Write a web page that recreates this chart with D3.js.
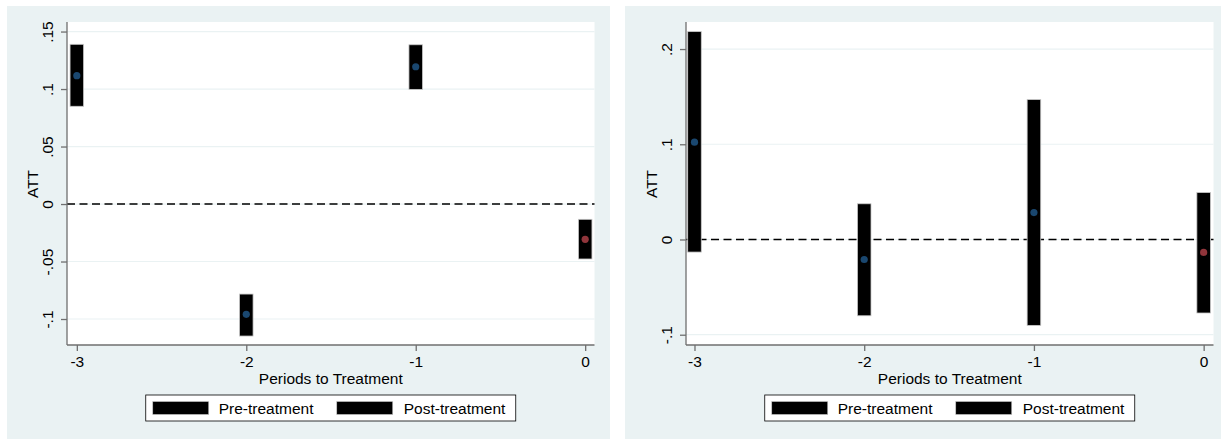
<!DOCTYPE html>
<html>
<head>
<meta charset="utf-8">
<script src="https://cdn.jsdelivr.net/npm/d3@7"></script>
<style>
  html, body { margin: 0; padding: 0; background: #ffffff; }
  svg { display: block; font-family: "Liberation Sans", Arial, sans-serif; }
</style>
</head>
<body>
<svg id="chart" width="1221" height="441"></svg>
<script>
// Event-study estimates: periods relative to treatment, point estimates and CI bounds
const periods = [-3, -2, -1, 0];
const periodLabels = ["-3", "-2", "-1", "0"];

const leftEst = [0.1116, -0.0959, 0.1194, -0.0307];
const leftLo  = [0.0850, -0.1148, 0.0997, -0.0478];
const leftHi  = [0.1389, -0.0783, 0.1385, -0.0133];
const leftTicks = [-0.1, -0.05, 0, 0.05, 0.1, 0.15];
const leftTickLabels = ["-.1", "-.05", "0", ".05", ".1", ".15"];

const rightEst = [0.1022, -0.0210, 0.0283, -0.0136];
const rightLo  = [-0.0132, -0.0801, -0.0902, -0.0772];
const rightHi  = [0.2183, 0.0375, 0.1469, 0.0493];
const rightTicks = [-0.1, 0, 0.1, 0.2];
const rightTickLabels = ["-.1", "0", ".1", ".2"];

const legendLabels = ["Pre-treatment", "Post-treatment"];
const xTitle = "Periods to Treatment";
const yTitle = "ATT";

const BG = "#eaf2f3";
const AXIS = "#6f6f6f";
const PRE = "#1a476f";
const POST = "#90353b";
const BAR_HALF = 0.04;
const FS = 15.5;

const svg = d3.select("#chart");

function panel(opts) {
  const g = svg.append("g");
  // outer graph region
  g.append("rect").attr("x", opts.bx).attr("y", 6).attr("width", opts.bw).attr("height", 433).attr("fill", BG);
  // plot region
  g.append("rect").attr("x", opts.px0).attr("y", 22).attr("width", opts.px1 - opts.px0).attr("height", 345 - 22).attr("fill", "#ffffff");

  const x = d3.scaleLinear().domain(opts.xdom).range([opts.px0, opts.px1]);
  const y = d3.scaleLinear().domain(opts.ydom).range([345, 22]);

  // horizontal grid
  g.append("g").selectAll("line").data(opts.ticks).join("line")
    .attr("x1", opts.px0).attr("x2", opts.px1)
    .attr("y1", d => y(d)).attr("y2", d => y(d))
    .attr("stroke", BG).attr("stroke-width", 1.2);

  // zero reference line
  g.append("line").attr("x1", opts.px0).attr("x2", opts.px1)
    .attr("y1", y(0)).attr("y2", y(0))
    .attr("stroke", "#000").attr("stroke-width", 1.5).attr("stroke-dasharray", "8,4.5");

  // confidence bars
  const rows = periods.map((p, i) => ({ p, est: opts.est[i], lo: opts.lo[i], hi: opts.hi[i] }));
  g.append("g").selectAll("rect").data(rows).join("rect")
    .attr("x", d => x(d.p - BAR_HALF))
    .attr("width", d => x(d.p + BAR_HALF) - x(d.p - BAR_HALF))
    .attr("y", d => y(d.hi))
    .attr("height", d => y(d.lo) - y(d.hi))
    .attr("fill", "#000").attr("stroke", "#c8c8c8").attr("stroke-width", 0.8);

  // point estimates
  g.append("g").selectAll("circle").data(rows).join("circle")
    .attr("cx", d => x(d.p)).attr("cy", d => y(d.est)).attr("r", 3.6)
    .attr("fill", d => d.p < 0 ? PRE : POST);

  // y axis
  const yAxis = d3.axisLeft(y).tickValues(opts.ticks).tickSize(6).tickFormat((d, i) => opts.tickLabels[i]);
  const ya = g.append("g").attr("transform", `translate(${opts.px0},0)`).call(yAxis);
  ya.select(".domain").attr("stroke", AXIS).attr("stroke-width", 1.3).attr("d", `M0,22V345`);
  ya.selectAll(".tick line").attr("stroke", AXIS).attr("stroke-width", 1.3);
  ya.selectAll(".tick text")
    .attr("x", null).attr("dy", null)
    .attr("transform", "translate(-14,0) rotate(-90)")
    .attr("text-anchor", "middle").attr("y", 0)
    .attr("font-size", FS).attr("fill", "#000")
    .attr("font-family", "Liberation Sans, Arial, sans-serif");

  // x axis
  const xAxis = d3.axisBottom(x).tickValues(periods).tickSize(6).tickFormat((d, i) => periodLabels[i]);
  const xa = g.append("g").attr("transform", "translate(0,345)").call(xAxis);
  xa.select(".domain").attr("stroke", AXIS).attr("stroke-width", 1.3).attr("d", `M${opts.px0},0H${opts.px1}`);
  xa.selectAll(".tick line").attr("stroke", AXIS).attr("stroke-width", 1.3);
  xa.selectAll(".tick text").attr("y", 22).attr("dy", null)
    .attr("font-size", FS).attr("fill", "#000")
    .attr("font-family", "Liberation Sans, Arial, sans-serif");

  // axis titles
  const cx = (opts.px0 + opts.px1) / 2;
  g.append("text").attr("x", cx).attr("y", 384).attr("text-anchor", "middle")
    .attr("font-size", FS).text(xTitle);
  g.append("text").attr("transform", `translate(${opts.px0 - 29},184) rotate(-90)`)
    .attr("text-anchor", "middle").attr("font-size", FS).text(yTitle);

  // legend
  const lw = 370, lx = cx - lw / 2, ly = 395;
  const lg = g.append("g");
  lg.append("rect").attr("x", lx).attr("y", ly).attr("width", lw).attr("height", 26)
    .attr("fill", "#fff").attr("stroke", "#000").attr("stroke-width", 0.8);
  const items = [{ sx: lx + 7, tx: lx + 73 }, { sx: lx + 191, tx: lx + 258 }];
  items.forEach((it, i) => {
    lg.append("rect").attr("x", it.sx).attr("y", ly + 6.5).attr("width", 56).attr("height", 13)
      .attr("fill", "#000").attr("stroke", "#c8c8c8").attr("stroke-width", 0.6);
    lg.append("text").attr("x", it.tx).attr("y", ly + 18.5).attr("font-size", FS).text(legendLabels[i]);
  });
}

panel({ bx: 7, bw: 603, px0: 67, px1: 594.5, xdom: [-3.058, 0.055], ydom: [-0.1226, 0.1583],
  est: leftEst, lo: leftLo, hi: leftHi, ticks: leftTicks, tickLabels: leftTickLabels });
panel({ bx: 625, bw: 596, px0: 686, px1: 1213.5, xdom: [-3.050, 0.058], ydom: [-0.1108, 0.2284],
  est: rightEst, lo: rightLo, hi: rightHi, ticks: rightTicks, tickLabels: rightTickLabels });
</script>
</body>
</html>
